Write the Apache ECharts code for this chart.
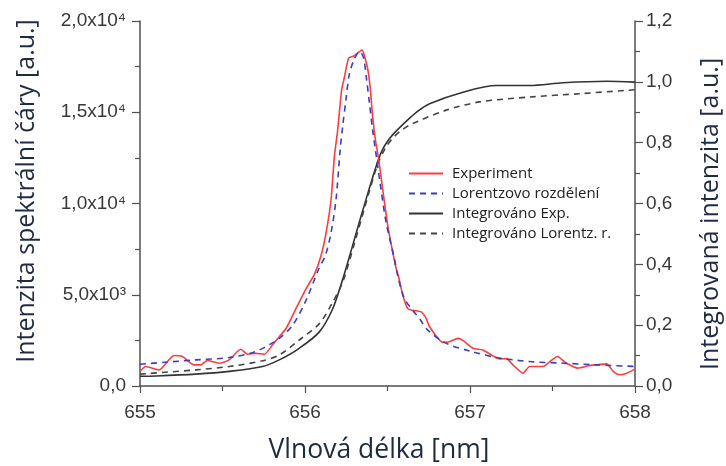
<!DOCTYPE html>
<html><head><meta charset="utf-8">
<script src="https://cdn.jsdelivr.net/npm/echarts@6/dist/echarts.min.js"></script>
<style>html,body{margin:0;padding:0;background:#fff}#c{width:726px;height:466px}</style>
</head><body><div id="c"></div>
<script>
const seriesNames = ['Experiment', 'Lorentzovo rozdělení', 'Integrováno Exp.', 'Integrováno Lorentz. r.'];
const xTitle = 'Vlnová délka [nm]';
const yLeftTitle = 'Intenzita spektrální čáry [a.u.]';
const yRightTitle = 'Integrovaná intenzita [a.u.]';

const expX = [655.000,655.035,655.115,655.206,655.257,655.328,655.368,655.409,655.480,655.540,655.611,655.652,655.702,655.753,655.803,655.844,655.885,655.945,656.006,656.056,656.097,656.128,656.158,656.178,656.198,656.222,656.239,656.265,656.299,656.346,656.360,656.380,656.395,656.410,656.427,656.447,656.471,656.502,656.532,656.553,656.568,656.593,656.623,656.653,656.704,656.735,656.755,656.835,656.876,656.927,656.957,657.018,657.078,657.139,657.180,657.220,657.260,657.321,657.362,657.443,657.473,657.530,657.585,657.655,657.716,657.767,657.828,657.868,657.908,657.949,658.000];
const expY = [800,1070,886,1668,1612,1160,1160,1395,1250,1430,2010,1740,1790,1740,2245,2701,3150,4239,5326,6100,7139,8408,10218,12571,14022,16231,16919,17973,18099,18408,18099,17376,16375,14745,13479,12392,10761,8767,7321,6413,5962,4962,4239,4147,4060,3696,3245,2390,2430,2610,2500,2065,1975,1650,1485,1500,1160,705,1070,1070,1250,1615,1250,980,1105,1160,1215,800,615,705,925];

const lorX = [655.000,655.150,655.338,655.540,655.700,655.844,655.925,656.006,656.083,656.123,656.158,656.188,656.213,656.228,656.249,656.269,656.299,656.330,656.354,656.374,656.391,656.410,656.427,656.455,656.492,656.542,656.562,656.603,656.653,656.694,656.744,656.857,656.998,657.160,657.362,657.564,657.770,658.000];
const lorY = [1195,1300,1430,1560,1885,2609,3332,4690,6413,7139,8408,10218,12935,14202,15745,17104,17919,18332,18006,16740,15473,14022,12935,11125,8948,6957,6049,4783,4147,3696,3060,2335,1920,1560,1340,1250,1160,1070];

const intExpX = [655.000,655.100,655.338,655.540,655.743,655.844,655.965,656.087,656.168,656.228,656.285,656.340,656.400,656.445,656.475,656.510,656.545,656.613,656.680,656.755,656.957,657.160,657.362,657.564,657.828,658.000];
const intExpY = [0.032,0.033,0.039,0.048,0.064,0.086,0.124,0.178,0.254,0.350,0.455,0.559,0.668,0.745,0.783,0.812,0.834,0.870,0.902,0.928,0.966,0.988,0.988,0.997,1.002,0.999];

const intLorX = [655.000,655.338,655.540,655.743,655.844,655.965,656.087,656.168,656.228,656.300,656.390,656.441,656.490,656.532,656.590,656.654,656.856,657.058,657.362,657.665,658.000];
const intLorY = [0.039,0.053,0.064,0.083,0.102,0.151,0.205,0.276,0.341,0.470,0.640,0.730,0.785,0.815,0.843,0.863,0.907,0.934,0.950,0.961,0.974];

const xTicks = [655, 656, 657, 658];
const yLeftTicks = [0, 5000, 10000, 15000, 20000];
const yRightTicks = [0, 0.2, 0.4, 0.6, 0.8, 1.0, 1.2];

const zip = (xs, ys) => xs.map((x, i) => [x, ys[i]]);
const supDigits = {'0':'⁰','1':'¹','2':'²','3':'³','4':'⁴','5':'⁵','6':'⁶','7':'⁷','8':'⁸','9':'⁹'};
const axisCol = '#505050';
const labelCol = '#383838';
const titleCol = '#1f2a44';
const tickFont = '"Liberation Sans", Arial, sans-serif';
const textFont = '"Open Sans", "Noto Sans", sans-serif';

const chart = echarts.init(document.getElementById('c'), null, {renderer: 'canvas'});
chart.setOption({
  animation: false,
  backgroundColor: '#fff',
  grid: {left: 140, right: 91, top: 21, bottom: 80, containLabel: false},
  legend: {
    orient: 'vertical', left: 408, top: 166, padding: 0,
    itemWidth: 34, itemHeight: 16, itemGap: 5,
    itemStyle: {opacity: 0},
    textStyle: {fontSize: 15, fontFamily: textFont, color: '#222', padding: [0,0,0,4]},
    data: seriesNames
  },
  xAxis: {
    type: 'value', min: xTicks[0], max: xTicks[xTicks.length-1], interval: 1,
    axisLine: {show: true, lineStyle: {color: axisCol, width: 1.5}},
    axisTick: {show: true, length: 7, lineStyle: {color: axisCol, width: 1.2}},
    minorTick: {show: true, splitNumber: 2, length: 5, lineStyle: {color: axisCol, width: 1.2}},
    splitLine: {show: false},
    axisLabel: {margin: 17, fontSize: 19, fontFamily: tickFont, color: labelCol}
  },
  yAxis: [{
    type: 'value', min: yLeftTicks[0], max: yLeftTicks[yLeftTicks.length-1], interval: 5000, position: 'left',
    axisLine: {show: true, lineStyle: {color: axisCol, width: 1.5}},
    axisTick: {show: true, length: 8, lineStyle: {color: axisCol, width: 1.2}},
    minorTick: {show: true, splitNumber: 2, length: 5, lineStyle: {color: axisCol, width: 1.2}},
    splitLine: {show: false},
    axisLabel: {
      margin: 14, fontSize: 19, fontFamily: tickFont, color: labelCol,
      formatter: function (v) {
        if (v === 0) return '0,0';
        const e = Math.floor(Math.log10(v) + 1e-9);
        const m = (v / Math.pow(10, e)).toFixed(1).replace('.', ',');
        return m + 'x10' + String(e).split('').map(d => supDigits[d]).join('');
      }
    }
  }, {
    type: 'value', min: yRightTicks[0], max: yRightTicks[yRightTicks.length-1], interval: 0.2, position: 'right',
    axisLine: {show: true, lineStyle: {color: axisCol, width: 1.5}},
    axisTick: {show: true, length: 8, lineStyle: {color: axisCol, width: 1.2}},
    minorTick: {show: true, splitNumber: 2, length: 5, lineStyle: {color: axisCol, width: 1.2}},
    splitLine: {show: false},
    axisLabel: {
      margin: 11, fontSize: 19, fontFamily: tickFont, color: labelCol,
      formatter: v => v.toFixed(1).replace('.', ',')
    }
  }],
  graphic: [
    {type: 'text', x: 27, y: 191, rotation: Math.PI/2,
     style: {text: yLeftTitle, font: '25px ' + textFont, fill: titleCol, align: 'center', verticalAlign: 'middle'}},
    {type: 'text', x: 711, y: 214, rotation: Math.PI/2,
     style: {text: yRightTitle, font: '25px ' + textFont, fill: titleCol, align: 'center', verticalAlign: 'middle'}},
    {type: 'text', x: 379, y: 450,
     style: {text: xTitle, font: '26.5px ' + textFont, fill: titleCol, align: 'center', verticalAlign: 'middle'}}
  ],
  series: [
    {name: seriesNames[0], type: 'line', yAxisIndex: 0, data: zip(expX, expY), symbol: 'none', smooth: 0.2,
     lineStyle: {color: '#ff3c3c', width: 1.6}, itemStyle: {color: '#ff3c3c'}, z: 4},
    {name: seriesNames[1], type: 'line', yAxisIndex: 0, data: zip(lorX, lorY), symbol: 'none', smooth: 0.3,
     lineStyle: {color: '#3c3cc8', width: 1.6, type: [6, 5]}, itemStyle: {color: '#3c3cc8'}, z: 5},
    {name: seriesNames[2], type: 'line', yAxisIndex: 1, data: zip(intExpX, intExpY), symbol: 'none', smooth: 0.3,
     lineStyle: {color: '#333', width: 1.6}, itemStyle: {color: '#333'}, z: 3},
    {name: seriesNames[3], type: 'line', yAxisIndex: 1, data: zip(intLorX, intLorY), symbol: 'none', smooth: 0.3,
     lineStyle: {color: '#444', width: 1.6, type: [6, 5]}, itemStyle: {color: '#444'}, z: 3}
  ]
});
</script>
</body></html>
